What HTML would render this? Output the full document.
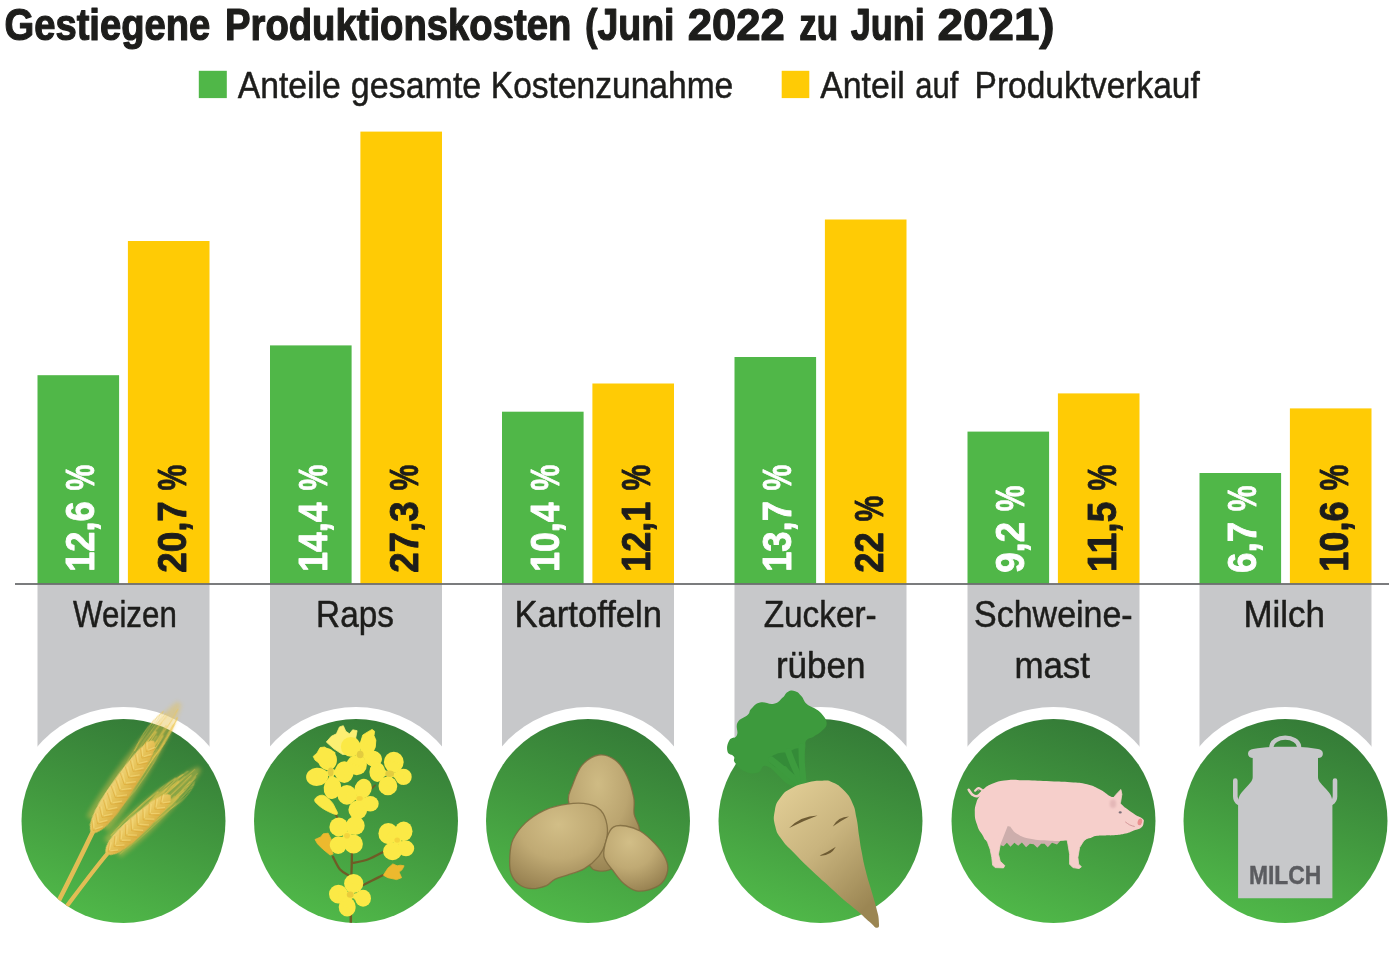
<!DOCTYPE html>
<html lang="de"><head><meta charset="utf-8"><title>Gestiegene Produktionskosten</title>
<style>html,body{margin:0;padding:0;background:#fff}svg{display:block}text{font-family:"Liberation Sans",sans-serif}</style></head><body>
<svg width="1400" height="957" viewBox="0 0 1400 957">
<defs><linearGradient id="gc" x1="0.34" y1="1" x2="0.68" y2="0"><stop offset="0" stop-color="#50b949"/><stop offset="0.5" stop-color="#42993f"/><stop offset="1" stop-color="#347a37"/></linearGradient>
<linearGradient id="gw" x1="0" y1="0" x2="0" y2="1"><stop offset="0" stop-color="#efd377"/><stop offset="0.5" stop-color="#e6c257"/><stop offset="1" stop-color="#d9ad42"/></linearGradient>
<filter id="b05" x="-20%" y="-20%" width="140%" height="140%"><feGaussianBlur stdDeviation="0.5"/></filter>
<filter id="b1" x="-20%" y="-20%" width="140%" height="140%"><feGaussianBlur stdDeviation="1"/></filter>
<filter id="b2" x="-20%" y="-50%" width="140%" height="200%"><feGaussianBlur stdDeviation="2"/></filter>
<clipPath id="cc"><circle cx="0" cy="0" r="102"/></clipPath>
<radialGradient id="gpa" cx="0.42" cy="0.25" r="0.85"><stop offset="0" stop-color="#cfbb84"/><stop offset="0.5" stop-color="#bba570"/><stop offset="1" stop-color="#8f7a4a"/></radialGradient>
<radialGradient id="gpb" cx="0.5" cy="0.25" r="0.8"><stop offset="0" stop-color="#d2be87"/><stop offset="0.5" stop-color="#c0aa74"/><stop offset="1" stop-color="#968050"/></radialGradient>
<radialGradient id="gpc" cx="0.4" cy="0.25" r="0.8"><stop offset="0" stop-color="#d2be87"/><stop offset="0.5" stop-color="#c0aa74"/><stop offset="1" stop-color="#968050"/></radialGradient>
<linearGradient id="gbeet" x1="0.15" y1="0.05" x2="0.75" y2="0.95"><stop offset="0" stop-color="#dfcb93"/><stop offset="0.45" stop-color="#c9b47e"/><stop offset="1" stop-color="#9b8653"/></linearGradient>

</defs>
<rect width="1400" height="957" fill="#fff"/>
<text x="4.54" y="39.5" font-size="44" font-weight="bold" fill="#1d1d1b" stroke="#1d1d1b" stroke-width="1.2" stroke-linejoin="round" textLength="205.67" lengthAdjust="spacingAndGlyphs">Gestiegene</text>
<text x="225.04" y="39.5" font-size="44" font-weight="bold" fill="#1d1d1b" stroke="#1d1d1b" stroke-width="1.2" stroke-linejoin="round" textLength="346.23" lengthAdjust="spacingAndGlyphs">Produktionskosten</text>
<text x="584.98" y="39.5" font-size="44" font-weight="bold" fill="#1d1d1b" stroke="#1d1d1b" stroke-width="1.2" stroke-linejoin="round" textLength="89.57" lengthAdjust="spacingAndGlyphs">(Juni</text>
<text x="687.69" y="39.5" font-size="44" font-weight="bold" fill="#1d1d1b" stroke="#1d1d1b" stroke-width="1.2" stroke-linejoin="round" textLength="97.16" lengthAdjust="spacingAndGlyphs">2022</text>
<text x="799.20" y="39.5" font-size="44" font-weight="bold" fill="#1d1d1b" stroke="#1d1d1b" stroke-width="1.2" stroke-linejoin="round" textLength="38.80" lengthAdjust="spacingAndGlyphs">zu</text>
<text x="850.65" y="39.5" font-size="44" font-weight="bold" fill="#1d1d1b" stroke="#1d1d1b" stroke-width="1.2" stroke-linejoin="round" textLength="74.20" lengthAdjust="spacingAndGlyphs">Juni</text>
<text x="937.61" y="39.5" font-size="44" font-weight="bold" fill="#1d1d1b" stroke="#1d1d1b" stroke-width="1.2" stroke-linejoin="round" textLength="116.96" lengthAdjust="spacingAndGlyphs">2021)</text>
<rect x="198.8" y="70.8" width="28" height="27.3" fill="#50b748"/>
<text x="237.68" y="98" font-size="37" fill="#1d1d1b" stroke="#1d1d1b" stroke-width="0.5" stroke-linejoin="round" textLength="103.06" lengthAdjust="spacingAndGlyphs">Anteile</text>
<text x="350.82" y="98" font-size="37" fill="#1d1d1b" stroke="#1d1d1b" stroke-width="0.5" stroke-linejoin="round" textLength="130.44" lengthAdjust="spacingAndGlyphs">gesamte</text>
<text x="490.75" y="98" font-size="37" fill="#1d1d1b" stroke="#1d1d1b" stroke-width="0.5" stroke-linejoin="round" textLength="242.49" lengthAdjust="spacingAndGlyphs">Kostenzunahme</text>
<rect x="781.7" y="70.8" width="27.6" height="27.3" fill="#ffcb05"/>
<text x="820.18" y="98" font-size="37" fill="#1d1d1b" stroke="#1d1d1b" stroke-width="0.5" stroke-linejoin="round" textLength="84.73" lengthAdjust="spacingAndGlyphs">Anteil</text>
<text x="915.23" y="98" font-size="37" fill="#1d1d1b" stroke="#1d1d1b" stroke-width="0.5" stroke-linejoin="round" textLength="43.07" lengthAdjust="spacingAndGlyphs">auf</text>
<text x="974.60" y="98" font-size="37" fill="#1d1d1b" stroke="#1d1d1b" stroke-width="0.5" stroke-linejoin="round" textLength="225.10" lengthAdjust="spacingAndGlyphs">Produktverkauf</text>
<rect x="37.5" y="584.0" width="172.0" height="190" fill="#c7c8ca"/>
<rect x="270.0" y="584.0" width="172.0" height="190" fill="#c7c8ca"/>
<rect x="502.0" y="584.0" width="172.0" height="190" fill="#c7c8ca"/>
<rect x="734.5" y="584.0" width="172.0" height="190" fill="#c7c8ca"/>
<rect x="967.5" y="584.0" width="172.0" height="190" fill="#c7c8ca"/>
<rect x="1199.5" y="584.0" width="172.0" height="190" fill="#c7c8ca"/>
<rect x="37.5" y="375.2" width="81.6" height="208.8" fill="#50b748"/>
<rect x="127.9" y="241.0" width="81.6" height="343.0" fill="#ffcb05"/>
<rect x="270.0" y="345.4" width="81.6" height="238.6" fill="#50b748"/>
<rect x="360.4" y="131.6" width="81.6" height="452.4" fill="#ffcb05"/>
<rect x="502.0" y="411.7" width="81.6" height="172.3" fill="#50b748"/>
<rect x="592.4" y="383.5" width="81.6" height="200.5" fill="#ffcb05"/>
<rect x="734.5" y="357.0" width="81.6" height="227.0" fill="#50b748"/>
<rect x="824.9" y="219.5" width="81.6" height="364.5" fill="#ffcb05"/>
<rect x="967.5" y="431.6" width="81.6" height="152.4" fill="#50b748"/>
<rect x="1057.9" y="393.4" width="81.6" height="190.6" fill="#ffcb05"/>
<rect x="1199.5" y="473.0" width="81.6" height="111.0" fill="#50b748"/>
<rect x="1289.9" y="408.4" width="81.6" height="175.6" fill="#ffcb05"/>
<rect x="15" y="583.1" width="1374" height="1.8" fill="#6d6e70"/>
<text transform="translate(94.3,570.0) rotate(-90)" y="0" font-size="41" font-weight="bold" fill="#fff" stroke="#fff" stroke-width="0.9" stroke-linejoin="round"><tspan x="-1.83" textLength="70.38" lengthAdjust="spacingAndGlyphs">12,6</tspan> <tspan x="79.53" textLength="25.79" lengthAdjust="spacingAndGlyphs">%</tspan></text>
<text transform="translate(185.5,572.0) rotate(-90)" y="0" font-size="41" font-weight="bold" fill="#1d1d1b" stroke="#1d1d1b" stroke-width="0.9" stroke-linejoin="round"><tspan x="-0.83" textLength="71.70" lengthAdjust="spacingAndGlyphs">20,7</tspan> <tspan x="81.53" textLength="25.79" lengthAdjust="spacingAndGlyphs">%</tspan></text>
<text transform="translate(326.8,570.0) rotate(-90)" y="0" font-size="41" font-weight="bold" fill="#fff" stroke="#fff" stroke-width="0.9" stroke-linejoin="round"><tspan x="-1.79" textLength="69.23" lengthAdjust="spacingAndGlyphs">14,4</tspan> <tspan x="79.53" textLength="25.79" lengthAdjust="spacingAndGlyphs">%</tspan></text>
<text transform="translate(418.0,572.0) rotate(-90)" y="0" font-size="41" font-weight="bold" fill="#1d1d1b" stroke="#1d1d1b" stroke-width="0.9" stroke-linejoin="round"><tspan x="-0.82" textLength="71.40" lengthAdjust="spacingAndGlyphs">27,3</tspan> <tspan x="81.53" textLength="25.79" lengthAdjust="spacingAndGlyphs">%</tspan></text>
<text transform="translate(558.8,570.0) rotate(-90)" y="0" font-size="41" font-weight="bold" fill="#fff" stroke="#fff" stroke-width="0.9" stroke-linejoin="round"><tspan x="-1.79" textLength="69.23" lengthAdjust="spacingAndGlyphs">10,4</tspan> <tspan x="79.53" textLength="25.79" lengthAdjust="spacingAndGlyphs">%</tspan></text>
<text transform="translate(650.0,570.0) rotate(-90)" y="0" font-size="41" font-weight="bold" fill="#1d1d1b" stroke="#1d1d1b" stroke-width="0.9" stroke-linejoin="round"><tspan x="-1.82" textLength="70.07" lengthAdjust="spacingAndGlyphs">12,1</tspan> <tspan x="79.53" textLength="25.79" lengthAdjust="spacingAndGlyphs">%</tspan></text>
<text transform="translate(791.3,570.0) rotate(-90)" y="0" font-size="41" font-weight="bold" fill="#fff" stroke="#fff" stroke-width="0.9" stroke-linejoin="round"><tspan x="-1.84" textLength="70.68" lengthAdjust="spacingAndGlyphs">13,7</tspan> <tspan x="79.53" textLength="25.79" lengthAdjust="spacingAndGlyphs">%</tspan></text>
<text transform="translate(882.5,572.0) rotate(-90)" y="0" font-size="41" font-weight="bold" fill="#1d1d1b" stroke="#1d1d1b" stroke-width="0.9" stroke-linejoin="round"><tspan x="-0.81" textLength="40.52" lengthAdjust="spacingAndGlyphs">22</tspan> <tspan x="50.53" textLength="25.79" lengthAdjust="spacingAndGlyphs">%</tspan></text>
<text transform="translate(1024.3,572.0) rotate(-90)" y="0" font-size="41" font-weight="bold" fill="#fff" stroke="#fff" stroke-width="0.9" stroke-linejoin="round"><tspan x="-0.82" textLength="50.83" lengthAdjust="spacingAndGlyphs">9,2</tspan> <tspan x="60.83" textLength="25.79" lengthAdjust="spacingAndGlyphs">%</tspan></text>
<text transform="translate(1115.5,570.0) rotate(-90)" y="0" font-size="41" font-weight="bold" fill="#1d1d1b" stroke="#1d1d1b" stroke-width="0.9" stroke-linejoin="round"><tspan x="-1.89" textLength="70.17" lengthAdjust="spacingAndGlyphs">11,5</tspan> <tspan x="79.53" textLength="25.79" lengthAdjust="spacingAndGlyphs">%</tspan></text>
<text transform="translate(1256.3,572.0) rotate(-90)" y="0" font-size="41" font-weight="bold" fill="#fff" stroke="#fff" stroke-width="0.9" stroke-linejoin="round"><tspan x="-0.90" textLength="51.06" lengthAdjust="spacingAndGlyphs">6,7</tspan> <tspan x="60.83" textLength="25.79" lengthAdjust="spacingAndGlyphs">%</tspan></text>
<text transform="translate(1347.5,570.0) rotate(-90)" y="0" font-size="41" font-weight="bold" fill="#1d1d1b" stroke="#1d1d1b" stroke-width="0.9" stroke-linejoin="round"><tspan x="-1.83" textLength="70.38" lengthAdjust="spacingAndGlyphs">10,6</tspan> <tspan x="79.53" textLength="25.79" lengthAdjust="spacingAndGlyphs">%</tspan></text>
<text x="73.11" y="627.3" font-size="36.5" fill="#1d1d1b" stroke="#1d1d1b" stroke-width="0.5" stroke-linejoin="round" textLength="103.67" lengthAdjust="spacingAndGlyphs">Weizen</text>
<text x="316.12" y="627.3" font-size="36.5" fill="#1d1d1b" stroke="#1d1d1b" stroke-width="0.5" stroke-linejoin="round" textLength="77.73" lengthAdjust="spacingAndGlyphs">Raps</text>
<text x="514.41" y="627.3" font-size="36.5" fill="#1d1d1b" stroke="#1d1d1b" stroke-width="0.5" stroke-linejoin="round" textLength="147.59" lengthAdjust="spacingAndGlyphs">Kartoffeln</text>
<text x="763.69" y="627.3" font-size="36.5" fill="#1d1d1b" stroke="#1d1d1b" stroke-width="0.5" stroke-linejoin="round" textLength="113.04" lengthAdjust="spacingAndGlyphs">Zucker-</text>
<text x="775.92" y="677.5999999999999" font-size="36.5" fill="#1d1d1b" stroke="#1d1d1b" stroke-width="0.5" stroke-linejoin="round" textLength="89.60" lengthAdjust="spacingAndGlyphs">rüben</text>
<text x="974.11" y="627.3" font-size="36.5" fill="#1d1d1b" stroke="#1d1d1b" stroke-width="0.5" stroke-linejoin="round" textLength="158.55" lengthAdjust="spacingAndGlyphs">Schweine-</text>
<text x="1014.43" y="677.5999999999999" font-size="36.5" fill="#1d1d1b" stroke="#1d1d1b" stroke-width="0.5" stroke-linejoin="round" textLength="75.57" lengthAdjust="spacingAndGlyphs">mast</text>
<text x="1243.38" y="627.3" font-size="36.5" fill="#1d1d1b" stroke="#1d1d1b" stroke-width="0.5" stroke-linejoin="round" textLength="81.64" lengthAdjust="spacingAndGlyphs">Milch</text>
<circle cx="123.5" cy="821" r="114" fill="#fff"/>
<circle cx="123.5" cy="821" r="102" fill="url(#gc)"/>
<g transform="translate(123.5,821)"><g clip-path="url(#cc)"><path d="M-30.5,10.5 C-42,34 -52,55 -67,84" fill="none" stroke="#e2bd55" stroke-width="4.6"/>
<path d="M-16,32.5 C-30,49 -43,67 -61,91" fill="none" stroke="#e2bd55" stroke-width="4.2"/></g>
<g transform="translate(-32,12) rotate(-56)">
<path d="M11.1,-13.6 C66.6,-18.5 134.0,-10.7 157.0,-2.4 L157.0,2.4 C134.0,10.7 66.6,18.5 11.1,13.6Z" fill="#e6c24f" opacity="0.45" filter="url(#b2)"/>
<g filter="url(#b05)" fill="none" stroke="#efc850" stroke-width="1.1" stroke-linecap="round">
<path d="M5.6,-5.9 Q51.6,-8.5 97.7,-6.3" opacity="0.51"/>
<path d="M9.3,2.8 Q49.1,4.1 88.8,2.0" opacity="0.59"/>
<path d="M13.1,-5.4 Q53.9,-7.8 94.7,-4.6" opacity="0.46"/>
<path d="M16.9,7.5 Q59.6,10.9 102.4,7.8" opacity="0.35"/>
<path d="M20.6,3.0 Q67.1,4.4 113.5,2.9" opacity="0.56"/>
<path d="M24.4,3.8 Q60.7,5.6 97.1,4.5" opacity="0.51"/>
<path d="M28.2,-4.5 Q63.3,-6.5 98.4,-3.8" opacity="0.47"/>
<path d="M32.0,4.9 Q76.0,7.1 119.9,4.8" opacity="0.62"/>
<path d="M35.7,-2.4 Q78.0,-3.4 120.2,-2.2" opacity="0.63"/>
<path d="M39.5,8.5 Q72.8,12.3 106.1,7.6" opacity="0.38"/>
<path d="M43.3,10.4 Q79.6,15.1 116.0,9.9" opacity="0.41"/>
<path d="M47.1,0.2 Q82.0,0.2 116.9,-0.1" opacity="0.50"/>
<path d="M50.8,1.9 Q90.9,2.7 130.9,2.0" opacity="0.63"/>
<path d="M54.6,8.0 Q94.8,11.6 135.0,6.9" opacity="0.36"/>
<path d="M58.4,8.1 Q97.4,11.7 136.4,7.4" opacity="0.50"/>
<path d="M62.2,4.8 Q91.7,7.0 121.2,4.9" opacity="0.50"/>
<path d="M65.9,-4.8 Q92.9,-7.0 119.9,-3.6" opacity="0.65"/>
<path d="M69.7,-9.2 Q104.3,-13.4 138.9,-7.5" opacity="0.35"/>
<path d="M73.5,-4.6 Q106.9,-6.7 140.2,-2.9" opacity="0.32"/>
<path d="M77.3,2.6 Q101.5,3.7 125.7,2.7" opacity="0.42"/>
<path d="M81.0,8.5 Q112.4,12.4 143.8,6.6" opacity="0.65"/>
<path d="M84.8,-4.3 Q107.7,-6.2 130.6,-3.4" opacity="0.31"/>
<path d="M88.6,-6.8 Q114.4,-9.8 140.3,-5.1" opacity="0.35"/>
<path d="M92.4,-10.3 Q116.7,-14.9 141.0,-8.4" opacity="0.64"/>
<path d="M96.1,8.9 Q119.7,12.9 143.2,6.8" opacity="0.48"/>
<path d="M99.9,3.2 Q125.3,4.7 150.8,2.5" opacity="0.52"/>
</g>
<path d="M0,0 C4.4,-12.2 44.4,-12.7 86.6,-8.8 C103.2,-6.8 111.0,-3.9 111.0,0 C111.0,3.9 103.2,6.8 86.6,8.8 C44.4,12.7 4.4,12.2 0,0Z" fill="url(#gw)" filter="url(#b05)"/>
<path d="M3.0,0 L10.5,-6.9 M3.0,0 L10.5,6.9" fill="none" stroke="#d9a02a" stroke-width="0.8" opacity="0.5"/>
<path d="M5.2,-0.6 L11.8,-5.5 M5.2,0.6 L11.8,5.5" fill="none" stroke="#f9df84" stroke-width="1.3" opacity="0.5"/>
<path d="M10.9,0 L18.4,-7.6 M10.9,0 L18.4,7.6" fill="none" stroke="#d9a02a" stroke-width="0.8" opacity="0.5"/>
<path d="M13.1,-0.6 L19.7,-6.0 M13.1,0.6 L19.7,6.0" fill="none" stroke="#f9df84" stroke-width="1.3" opacity="0.5"/>
<path d="M18.8,0 L26.3,-8.2 M18.8,0 L26.3,8.2" fill="none" stroke="#d9a02a" stroke-width="0.8" opacity="0.5"/>
<path d="M21.0,-0.6 L27.6,-6.6 M21.0,0.6 L27.6,6.6" fill="none" stroke="#f9df84" stroke-width="1.3" opacity="0.5"/>
<path d="M26.8,0 L34.3,-8.9 M26.8,0 L34.3,8.9" fill="none" stroke="#d9a02a" stroke-width="0.8" opacity="0.5"/>
<path d="M29.0,-0.6 L35.6,-7.1 M29.0,0.6 L35.6,7.1" fill="none" stroke="#f9df84" stroke-width="1.3" opacity="0.5"/>
<path d="M34.7,0 L42.2,-9.5 M34.7,0 L42.2,9.5" fill="none" stroke="#d9a02a" stroke-width="0.8" opacity="0.5"/>
<path d="M36.9,-0.6 L43.5,-7.6 M36.9,0.6 L43.5,7.6" fill="none" stroke="#f9df84" stroke-width="1.3" opacity="0.5"/>
<path d="M42.6,0 L50.1,-10.2 M42.6,0 L50.1,10.2" fill="none" stroke="#d9a02a" stroke-width="0.8" opacity="0.5"/>
<path d="M44.8,-0.6 L51.4,-8.2 M44.8,0.6 L51.4,8.2" fill="none" stroke="#f9df84" stroke-width="1.3" opacity="0.5"/>
<path d="M50.5,0 L58.0,-10.2 M50.5,0 L58.0,10.2" fill="none" stroke="#d9a02a" stroke-width="0.8" opacity="0.5"/>
<path d="M52.7,-0.6 L59.3,-8.2 M52.7,0.6 L59.3,8.2" fill="none" stroke="#f9df84" stroke-width="1.3" opacity="0.5"/>
<path d="M58.5,0 L66.0,-10.0 M58.5,0 L66.0,10.0" fill="none" stroke="#d9a02a" stroke-width="0.8" opacity="0.5"/>
<path d="M60.7,-0.6 L67.3,-8.0 M60.7,0.6 L67.3,8.0" fill="none" stroke="#f9df84" stroke-width="1.3" opacity="0.5"/>
<path d="M66.4,0 L73.9,-9.2 M66.4,0 L73.9,9.2" fill="none" stroke="#d9a02a" stroke-width="0.8" opacity="0.5"/>
<path d="M68.6,-0.6 L75.2,-7.4 M68.6,0.6 L75.2,7.4" fill="none" stroke="#f9df84" stroke-width="1.3" opacity="0.5"/>
<path d="M74.3,0 L81.8,-8.5 M74.3,0 L81.8,8.5" fill="none" stroke="#d9a02a" stroke-width="0.8" opacity="0.5"/>
<path d="M76.5,-0.6 L83.1,-6.8 M76.5,0.6 L83.1,6.8" fill="none" stroke="#f9df84" stroke-width="1.3" opacity="0.5"/>
<path d="M82.2,0 L89.7,-7.8 M82.2,0 L89.7,7.8" fill="none" stroke="#d9a02a" stroke-width="0.8" opacity="0.5"/>
<path d="M84.4,-0.6 L91.0,-6.2 M84.4,0.6 L91.0,6.2" fill="none" stroke="#f9df84" stroke-width="1.3" opacity="0.5"/>
<path d="M90.2,0 L97.7,-7.0 M90.2,0 L97.7,7.0" fill="none" stroke="#d9a02a" stroke-width="0.8" opacity="0.5"/>
<path d="M92.4,-0.6 L99.0,-5.6 M92.4,0.6 L99.0,5.6" fill="none" stroke="#f9df84" stroke-width="1.3" opacity="0.5"/>
<path d="M98.1,0 L105.6,-6.3 M98.1,0 L105.6,6.3" fill="none" stroke="#d9a02a" stroke-width="0.8" opacity="0.5"/>
<path d="M100.3,-0.6 L106.9,-5.0 M100.3,0.6 L106.9,5.0" fill="none" stroke="#f9df84" stroke-width="1.3" opacity="0.5"/>
</g>
<g transform="translate(-17.5,33) rotate(-42.5)">
<path d="M8.7,-12.6 C52.2,-17.1 107.0,-9.9 127.0,-2.2 L127.0,2.2 C107.0,9.9 52.2,17.1 8.7,12.6Z" fill="#e6c24f" opacity="0.45" filter="url(#b2)"/>
<g filter="url(#b05)" fill="none" stroke="#efc850" stroke-width="1.1" stroke-linecap="round">
<path d="M4.4,2.5 Q44.4,3.7 84.4,3.1" opacity="0.63"/>
<path d="M7.3,5.0 Q48.5,7.2 89.6,3.8" opacity="0.46"/>
<path d="M10.3,9.2 Q48.0,13.3 85.8,9.7" opacity="0.34"/>
<path d="M13.2,-0.6 Q46.3,-0.9 79.4,-0.6" opacity="0.50"/>
<path d="M16.2,-10.1 Q48.3,-14.6 80.4,-10.6" opacity="0.62"/>
<path d="M19.1,5.5 Q50.0,8.0 80.9,6.1" opacity="0.35"/>
<path d="M22.1,2.4 Q52.0,3.5 81.8,1.4" opacity="0.60"/>
<path d="M25.1,-6.0 Q55.1,-8.7 85.2,-4.9" opacity="0.61"/>
<path d="M28.0,-4.4 Q64.9,-6.3 101.8,-3.7" opacity="0.54"/>
<path d="M31.0,-6.1 Q67.0,-8.9 103.0,-4.9" opacity="0.64"/>
<path d="M33.9,8.2 Q62.9,11.8 91.8,7.3" opacity="0.36"/>
<path d="M36.9,-7.3 Q62.8,-10.6 88.7,-7.4" opacity="0.51"/>
<path d="M39.8,-10.3 Q71.2,-14.9 102.6,-9.2" opacity="0.41"/>
<path d="M42.8,6.6 Q71.6,9.6 100.3,5.4" opacity="0.47"/>
<path d="M45.8,4.2 Q69.6,6.1 93.5,4.9" opacity="0.31"/>
<path d="M48.7,5.2 Q79.8,7.5 110.8,3.2" opacity="0.58"/>
<path d="M51.7,-2.8 Q79.4,-4.0 107.1,-3.3" opacity="0.32"/>
<path d="M54.6,-6.6 Q85.5,-9.6 116.3,-5.7" opacity="0.56"/>
<path d="M57.6,8.9 Q85.8,12.9 114.0,6.7" opacity="0.42"/>
<path d="M60.6,0.5 Q88.3,0.7 116.0,-0.4" opacity="0.56"/>
<path d="M63.5,6.2 Q90.9,8.9 118.2,3.7" opacity="0.63"/>
<path d="M66.5,-8.5 Q88.5,-12.3 110.5,-6.6" opacity="0.62"/>
<path d="M69.4,-3.3 Q96.0,-4.8 122.6,-2.3" opacity="0.41"/>
<path d="M72.4,-3.8 Q91.4,-5.5 110.5,-3.9" opacity="0.35"/>
<path d="M75.3,3.9 Q98.5,5.7 121.7,2.2" opacity="0.32"/>
<path d="M78.3,10.1 Q95.2,14.6 112.1,7.9" opacity="0.38"/>
</g>
<path d="M0,0 C3.5,-11.2 34.8,-11.7 67.9,-8.1 C80.9,-6.3 87.0,-3.6 87.0,0 C87.0,3.6 80.9,6.3 67.9,8.1 C34.8,11.7 3.5,11.2 0,0Z" fill="url(#gw)" filter="url(#b05)"/>
<path d="M3.0,0 L10.5,-6.4 M3.0,0 L10.5,6.4" fill="none" stroke="#d9a02a" stroke-width="0.8" opacity="0.5"/>
<path d="M5.2,-0.6 L11.8,-5.1 M5.2,0.6 L11.8,5.1" fill="none" stroke="#f9df84" stroke-width="1.3" opacity="0.5"/>
<path d="M10.9,0 L18.4,-7.2 M10.9,0 L18.4,7.2" fill="none" stroke="#d9a02a" stroke-width="0.8" opacity="0.5"/>
<path d="M13.1,-0.6 L19.7,-5.8 M13.1,0.6 L19.7,5.8" fill="none" stroke="#f9df84" stroke-width="1.3" opacity="0.5"/>
<path d="M18.8,0 L26.3,-8.0 M18.8,0 L26.3,8.0" fill="none" stroke="#d9a02a" stroke-width="0.8" opacity="0.5"/>
<path d="M21.0,-0.6 L27.6,-6.4 M21.0,0.6 L27.6,6.4" fill="none" stroke="#f9df84" stroke-width="1.3" opacity="0.5"/>
<path d="M26.7,0 L34.2,-8.8 M26.7,0 L34.2,8.8" fill="none" stroke="#d9a02a" stroke-width="0.8" opacity="0.5"/>
<path d="M28.9,-0.6 L35.5,-7.0 M28.9,0.6 L35.5,7.0" fill="none" stroke="#f9df84" stroke-width="1.3" opacity="0.5"/>
<path d="M34.6,0 L42.1,-9.5 M34.6,0 L42.1,9.5" fill="none" stroke="#d9a02a" stroke-width="0.8" opacity="0.5"/>
<path d="M36.8,-0.6 L43.4,-7.6 M36.8,0.6 L43.4,7.6" fill="none" stroke="#f9df84" stroke-width="1.3" opacity="0.5"/>
<path d="M42.5,0 L50.0,-9.5 M42.5,0 L50.0,9.5" fill="none" stroke="#d9a02a" stroke-width="0.8" opacity="0.5"/>
<path d="M44.7,-0.6 L51.3,-7.6 M44.7,0.6 L51.3,7.6" fill="none" stroke="#f9df84" stroke-width="1.3" opacity="0.5"/>
<path d="M50.4,0 L57.9,-8.7 M50.4,0 L57.9,8.7" fill="none" stroke="#d9a02a" stroke-width="0.8" opacity="0.5"/>
<path d="M52.6,-0.6 L59.2,-7.0 M52.6,0.6 L59.2,7.0" fill="none" stroke="#f9df84" stroke-width="1.3" opacity="0.5"/>
<path d="M58.3,0 L65.8,-7.8 M58.3,0 L65.8,7.8" fill="none" stroke="#d9a02a" stroke-width="0.8" opacity="0.5"/>
<path d="M60.5,-0.6 L67.1,-6.3 M60.5,0.6 L67.1,6.3" fill="none" stroke="#f9df84" stroke-width="1.3" opacity="0.5"/>
<path d="M66.2,0 L73.7,-7.0 M66.2,0 L73.7,7.0" fill="none" stroke="#d9a02a" stroke-width="0.8" opacity="0.5"/>
<path d="M68.4,-0.6 L75.0,-5.6 M68.4,0.6 L75.0,5.6" fill="none" stroke="#f9df84" stroke-width="1.3" opacity="0.5"/>
<path d="M74.1,0 L81.6,-6.1 M74.1,0 L81.6,6.1" fill="none" stroke="#d9a02a" stroke-width="0.8" opacity="0.5"/>
<path d="M76.3,-0.6 L82.9,-4.9 M76.3,0.6 L82.9,4.9" fill="none" stroke="#f9df84" stroke-width="1.3" opacity="0.5"/>
</g></g>
<circle cx="356.0" cy="821" r="114" fill="#fff"/>
<circle cx="356.0" cy="821" r="102" fill="url(#gc)"/>
<g transform="translate(356.0,821)"><g clip-path="url(#cc)">
<path d="M-5.2,105.6 C-5.2,100.8 -5.2,81.6 -5.2,76.8" fill="none" stroke="#6f5c26" stroke-width="2.5" stroke-linecap="round"/>
</g>
<path d="M-4.8,59.2 C-4.8,56.9 -4.5,50.9 -4.3,45.4 C-4.2,40.0 -4.0,29.8 -4.0,26.6" fill="none" stroke="#6f5c26" stroke-width="2.3" stroke-linecap="round"/>
<path d="M-7.3,54.5 C-8.8,53.5 -13.2,51.7 -15.9,48.6 C-18.5,45.4 -21.9,37.8 -23.1,35.6" fill="none" stroke="#6f5c26" stroke-width="2.3" stroke-linecap="round"/>
<path d="M-3.3,41.9 C-0.8,41.4 6.7,40.4 11.7,38.5 C16.8,36.7 24.5,32.3 27.0,31.0" fill="none" stroke="#6f5c26" stroke-width="2.3" stroke-linecap="round"/>
<path d="M7.3,64.0 C8.9,63.2 13.4,60.9 16.7,59.2 C20.1,57.6 25.6,54.8 27.4,54.0" fill="none" stroke="#6f5c26" stroke-width="2.3" stroke-linecap="round"/>
<path d="M2.9,6.8 C3.1,5.4 4.2,2.2 4.2,-1.9 C4.2,-6.1 3.1,-15.5 2.9,-18.2" fill="none" stroke="#6f5c26" stroke-width="1.8" stroke-linecap="round"/>
<path d="M-14.6,1.8 C-15.2,1.0 -17.1,-1.3 -18.4,-3.2 C-19.6,-5.1 -21.5,-8.4 -22.1,-9.5" fill="none" stroke="#6f5c26" stroke-width="1.8" stroke-linecap="round"/>
<path d="M19.2,-35.8 C18.4,-35.0 15.5,-32.4 14.2,-30.8 C13.0,-29.1 12.1,-26.6 11.7,-25.8" fill="none" stroke="#6f5c26" stroke-width="1.6" stroke-linecap="round"/>
<path d="M-41.0,18.5 L-35.3,16.0 L-32.8,12.8 L-27.8,12.2 L-24.7,18.5 L-25.9,26.6 L-22.8,32.9 L-25.9,34.1 L-33.4,27.9 L-38.4,22.9Z" fill="#ecb92e" stroke="#ecb92e" stroke-width="0.8" stroke-linejoin="round"/>
<path d="M27.4,54.2 L31.8,47.3 L36.8,42.9 L41.2,44.8 L44.3,44.2 L48.1,44.8 L46.2,48.6 L43.1,51.1 L45.6,56.7 L40.6,58.6 L31.8,56.7Z" fill="#ecb92e" stroke="#ecb92e" stroke-width="0.8" stroke-linejoin="round"/>
<path d="M-41.2,-21.7 C-40.5,-23.8 -36.6,-26.1 -33.4,-25.8 C-30.2,-25.4 -27.8,-22.6 -25.3,-20.1 C-22.8,-17.6 -22.2,-15.9 -20.9,-13.2 C-19.6,-10.5 -17.5,-7.5 -18.8,-6.7 C-20.0,-5.9 -23.5,-7.4 -27.2,-9.2 C-30.8,-11.0 -34.4,-13.0 -37.2,-15.5 C-40.0,-18.0 -42.0,-19.7 -41.2,-21.7Z" fill="#fbe946" stroke="#fbe946" stroke-width="0.8" stroke-linejoin="round"/>
<path d="M-29.7,-79.0 L-24.7,-84.7 L-19.6,-87.2 L-16.5,-94.1 L-12.7,-95.3 L-10.2,-89.7 L-6.5,-87.2 L-3.3,-91.2 L1.1,-90.3 L-0.2,-83.4 L1.7,-74.7 L-3.3,-67.1 L-13.4,-66.5 L-22.1,-72.2Z" fill="#fcef72" stroke="#fcef72" stroke-width="0.8" stroke-linejoin="round"/>
<path d="M-42.8,-64.6 L-39.1,-67.8 L-35.9,-73.4 L-31.5,-74.0 L-27.2,-71.5 L-20.9,-68.4 L-24.7,-58.4 L-35.9,-57.1 L-41.0,-60.9Z" fill="#fbe946" stroke="#fbe946" stroke-width="0.8" stroke-linejoin="round"/>
<path d="M4.2,-77.2 L6.7,-85.9 L11.7,-89.1 L16.1,-91.6 L18.6,-89.7 L18.0,-85.3 L19.9,-80.9 L19.2,-73.4 L15.5,-67.1 L6.7,-67.1Z" fill="#fbe946" stroke="#fbe946" stroke-width="0.8" stroke-linejoin="round"/>
<circle cx="-24.9" cy="-48.6" r="4" fill="#fbe946"/>
<ellipse cx="-38.8" cy="-44.2" rx="11.1" ry="9.1" fill="#fbe946" transform="rotate(-5 -38.8 -44.2)"/>
<path d="M-24.9,-48.6 L-41.3,-52.3 L-36.3,-36.2Z" fill="#fbe946" stroke="#fbe946" stroke-width="0.6"/>
<ellipse cx="-28.8" cy="-61.9" rx="9.6" ry="11.3" fill="#fbe946" transform="rotate(-15 -28.8 -61.9)"/>
<path d="M-24.9,-48.6 L-20.2,-64.4 L-37.4,-59.4Z" fill="#fbe946" stroke="#fbe946" stroke-width="0.6"/>
<ellipse cx="-11.7" cy="-48.9" rx="9.4" ry="10.8" fill="#fbe946"/>
<path d="M-24.9,-48.6 L-11.5,-40.2 L-11.9,-57.6Z" fill="#fbe946" stroke="#fbe946" stroke-width="0.6"/>
<ellipse cx="-23.5" cy="-33.0" rx="8.8" ry="11.1" fill="#fbe946" transform="rotate(5 -23.5 -33.0)"/>
<path d="M-24.9,-48.6 L-31.6,-32.3 L-15.4,-33.8Z" fill="#fbe946" stroke="#fbe946" stroke-width="0.6"/>
<circle cx="4.2" cy="-66.5" r="4" fill="#fbe946"/>
<ellipse cx="17.2" cy="-62.4" rx="8.8" ry="7.9" fill="#fbe946" transform="rotate(10 17.2 -62.4)"/>
<path d="M4.2,-66.5 L14.9,-55.4 L19.4,-69.4Z" fill="#fbe946" stroke="#fbe946" stroke-width="0.6"/>
<ellipse cx="0.7" cy="-55.9" rx="10.2" ry="10.2" fill="#fbe946"/>
<path d="M4.2,-66.5 L-8.3,-58.9 L9.7,-52.9Z" fill="#fbe946" stroke="#fbe946" stroke-width="0.6"/>
<ellipse cx="-5.2" cy="-74.2" rx="9.9" ry="9.9" fill="#fbe946"/>
<path d="M4.2,-66.5 L0.6,-81.3 L-11.1,-67.0Z" fill="#fbe946" stroke="#fbe946" stroke-width="0.6"/>
<ellipse cx="11.8" cy="-76.5" rx="7.8" ry="11.3" fill="#fbe946" transform="rotate(10 11.8 -76.5)"/>
<path d="M4.2,-66.5 L17.6,-72.1 L6.1,-80.9Z" fill="#fbe946" stroke="#fbe946" stroke-width="0.6"/>
<circle cx="34.0" cy="-47.3" r="4" fill="#fbe946"/>
<ellipse cx="37.8" cy="-58.9" rx="9.9" ry="10.3" fill="#fbe946"/>
<path d="M34.0,-47.3 L46.6,-56.0 L29.0,-61.7Z" fill="#fbe946" stroke="#fbe946" stroke-width="0.6"/>
<ellipse cx="47.5" cy="-44.1" rx="8.2" ry="8.2" fill="#fbe946"/>
<path d="M34.0,-47.3 L45.7,-36.7 L49.2,-51.6Z" fill="#fbe946" stroke="#fbe946" stroke-width="0.6"/>
<ellipse cx="31.9" cy="-35.1" rx="9.4" ry="9.4" fill="#fbe946"/>
<path d="M34.0,-47.3 L23.3,-36.5 L40.5,-33.6Z" fill="#fbe946" stroke="#fbe946" stroke-width="0.6"/>
<ellipse cx="21.3" cy="-48.9" rx="7.9" ry="9.9" fill="#fbe946"/>
<path d="M34.0,-47.3 L22.2,-56.2 L20.4,-41.5Z" fill="#fbe946" stroke="#fbe946" stroke-width="0.6"/>
<circle cx="3.6" cy="-22.6" r="4" fill="#fbe946"/>
<ellipse cx="7.1" cy="-32.4" rx="8.5" ry="9.9" fill="#fbe946" transform="rotate(20 7.1 -32.4)"/>
<path d="M3.6,-22.6 L14.5,-29.7 L-0.3,-35.1Z" fill="#fbe946" stroke="#fbe946" stroke-width="0.6"/>
<ellipse cx="-9.1" cy="-26.2" rx="9.4" ry="9.9" fill="#fbe946"/>
<path d="M3.6,-22.6 L-6.7,-34.5 L-11.4,-17.8Z" fill="#fbe946" stroke="#fbe946" stroke-width="0.6"/>
<ellipse cx="14.2" cy="-17.3" rx="8.5" ry="7.8" fill="#fbe946"/>
<path d="M3.6,-22.6 L10.9,-10.8 L17.4,-23.8Z" fill="#fbe946" stroke="#fbe946" stroke-width="0.6"/>
<ellipse cx="1.8" cy="-11.2" rx="9.4" ry="9.4" fill="#fbe946"/>
<path d="M3.6,-22.6 L-6.8,-12.5 L10.4,-9.9Z" fill="#fbe946" stroke="#fbe946" stroke-width="0.6"/>
<ellipse cx="-25.3" cy="-49.0" rx="2.8" ry="4.4" fill="#d9c13c" opacity="0.7" filter="url(#b05)"/>
<ellipse cx="4.2" cy="-66.5" rx="3.4" ry="3.8" fill="#d9c13c" opacity="0.7" filter="url(#b05)"/>
<ellipse cx="33.7" cy="-47.3" rx="4.4" ry="3.2" fill="#d9c13c" opacity="0.7" filter="url(#b05)"/>
<ellipse cx="3.6" cy="-22.6" rx="3.2" ry="2.4" fill="#f2cc38" opacity="0.7" filter="url(#b05)"/>
<circle cx="-9.0" cy="14.7" r="4" fill="#fbe946"/>
<ellipse cx="-17.2" cy="5.9" rx="9.4" ry="9.4" fill="#fbe946"/>
<path d="M-9.0,14.7 L-10.9,-0.1 L-23.6,11.8Z" fill="#fbe946" stroke="#fbe946" stroke-width="0.6"/>
<ellipse cx="-0.7" cy="4.7" rx="9.4" ry="9.4" fill="#fbe946"/>
<path d="M-9.0,14.7 L6.0,10.2 L-7.4,-0.8Z" fill="#fbe946" stroke="#fbe946" stroke-width="0.6"/>
<ellipse cx="-17.8" cy="24.1" rx="8.5" ry="8.8" fill="#fbe946"/>
<path d="M-9.0,14.7 L-23.6,18.7 L-12.1,29.5Z" fill="#fbe946" stroke="#fbe946" stroke-width="0.6"/>
<ellipse cx="-2.5" cy="23.0" rx="9.4" ry="9.4" fill="#fbe946"/>
<path d="M-9.0,14.7 L-9.3,28.3 L4.3,17.6Z" fill="#fbe946" stroke="#fbe946" stroke-width="0.6"/>
<ellipse cx="-9.0" cy="14.7" rx="3.0" ry="2.8" fill="#f2cc38" opacity="0.7" filter="url(#b05)"/>
<circle cx="41.2" cy="19.5" r="4" fill="#fbe946"/>
<ellipse cx="32.3" cy="12.6" rx="9.9" ry="10.6" fill="#fbe946"/>
<path d="M41.2,19.5 L38.0,5.3 L26.7,19.9Z" fill="#fbe946" stroke="#fbe946" stroke-width="0.6"/>
<ellipse cx="47.7" cy="10.3" rx="8.8" ry="9.9" fill="#fbe946"/>
<path d="M41.2,19.5 L54.3,15.0 L41.0,5.6Z" fill="#fbe946" stroke="#fbe946" stroke-width="0.6"/>
<ellipse cx="36.5" cy="30.3" rx="9.4" ry="8.9" fill="#fbe946"/>
<path d="M41.2,19.5 L28.9,27.0 L44.1,33.6Z" fill="#fbe946" stroke="#fbe946" stroke-width="0.6"/>
<ellipse cx="50.0" cy="27.4" rx="8.2" ry="7.8" fill="#fbe946"/>
<path d="M41.2,19.5 L45.2,32.8 L54.8,22.0Z" fill="#fbe946" stroke="#fbe946" stroke-width="0.6"/>
<ellipse cx="41.2" cy="19.1" rx="2.8" ry="2.6" fill="#f2cc38" opacity="0.7" filter="url(#b05)"/>
<circle cx="-5.8" cy="74.0" r="4" fill="#fbe946"/>
<ellipse cx="-2.3" cy="62.5" rx="9.6" ry="9.4" fill="#fbe946"/>
<path d="M-5.8,74.0 L6.0,65.0 L-10.6,59.9Z" fill="#fbe946" stroke="#fbe946" stroke-width="0.6"/>
<ellipse cx="-17.6" cy="73.1" rx="9.4" ry="9.4" fill="#fbe946"/>
<path d="M-5.8,74.0 L-16.9,64.4 L-18.3,81.7Z" fill="#fbe946" stroke="#fbe946" stroke-width="0.6"/>
<ellipse cx="7.1" cy="77.2" rx="7.9" ry="8.5" fill="#fbe946"/>
<path d="M-5.8,74.0 L5.4,84.4 L8.9,70.0Z" fill="#fbe946" stroke="#fbe946" stroke-width="0.6"/>
<ellipse cx="-8.8" cy="86.0" rx="8.5" ry="9.4" fill="#fbe946"/>
<path d="M-5.8,74.0 L-16.5,84.2 L-1.1,87.9Z" fill="#fbe946" stroke="#fbe946" stroke-width="0.6"/>
<ellipse cx="-5.8" cy="73.6" rx="3.4" ry="3.2" fill="#e3c038" opacity="0.7" filter="url(#b05)"/></g>
<circle cx="588.0" cy="821" r="114" fill="#fff"/>
<circle cx="588.0" cy="821" r="102" fill="url(#gc)"/>
<g transform="translate(588.0,821)"><path d="M-19.6,-20.1 C-20.5,-26.7 -17.7,-29.8 -15.5,-35.7 C-13.2,-41.7 -10.4,-50.5 -6.1,-55.6 C-1.7,-60.6 5.1,-65.2 10.7,-66.0 C16.2,-66.9 22.7,-64.3 27.4,-60.8 C32.1,-57.3 35.8,-51.4 38.9,-45.1 C41.9,-38.9 44.5,-29.6 45.8,-23.2 C47.0,-16.8 45.2,-11.7 46.2,-6.5 C47.1,-1.3 51.4,2.9 51.4,8.2 C51.4,13.4 50.2,18.6 46.2,24.9 C42.2,31.1 33.3,41.6 27.4,45.8 C21.5,49.9 15.2,50.6 10.7,49.9 C6.1,49.3 3.7,49.3 0.2,41.6 C-3.3,33.9 -6.9,14.2 -10.2,4.0 C-13.5,-6.3 -18.8,-13.4 -19.6,-20.1Z" fill="url(#gpa)" stroke="#7f6b3f" stroke-width="1.3" stroke-opacity="0.85"/>
<path d="M-78.2,35.3 C-77.8,29.7 -77.6,24.2 -75.0,18.6 C-72.4,13.0 -67.7,6.8 -62.5,1.9 C-57.3,-3.0 -50.6,-7.5 -43.7,-10.7 C-36.7,-13.8 -28.0,-15.9 -20.7,-16.9 C-13.4,-18.0 -5.4,-18.0 0.2,-16.9 C5.8,-15.9 9.6,-14.1 12.7,-10.7 C15.9,-7.2 18.1,-1.3 19.0,4.0 C19.9,9.2 19.4,15.5 18.0,20.7 C16.6,25.9 14.3,30.8 10.7,35.3 C7.0,39.8 1.3,44.7 -4.0,47.9 C-9.2,51.0 -15.8,52.4 -20.7,54.1 C-25.6,55.9 -29.7,56.6 -33.2,58.3 C-36.7,60.0 -37.8,63.0 -41.6,64.6 C-45.4,66.1 -51.7,67.9 -56.2,67.7 C-60.7,67.5 -65.3,66.1 -68.8,63.5 C-72.2,60.9 -75.5,56.7 -77.1,52.0 C-78.7,47.3 -78.5,40.9 -78.2,35.3Z" fill="url(#gpb)" stroke="#7f6b3f" stroke-width="1.3" stroke-opacity="0.85"/>
<path d="M15.9,35.3 C14.8,29.7 17.5,21.4 19.0,16.5 C20.6,11.6 22.2,8.0 25.3,6.1 C28.4,4.1 33.3,4.3 37.8,5.0 C42.4,5.7 47.6,7.3 52.5,10.2 C57.3,13.2 62.9,18.3 67.1,22.8 C71.3,27.3 75.4,32.9 77.5,37.4 C79.6,41.9 80.3,45.8 79.6,49.9 C78.9,54.1 76.5,59.4 73.4,62.5 C70.2,65.6 65.0,67.5 60.8,68.8 C56.6,70.0 52.5,70.8 48.3,69.8 C44.1,68.8 39.6,65.8 35.7,62.5 C31.9,59.2 28.6,54.5 25.3,49.9 C22.0,45.4 16.9,40.9 15.9,35.3Z" fill="url(#gpc)" stroke="#7f6b3f" stroke-width="1.3" stroke-opacity="0.85"/></g>
<circle cx="820.5" cy="821" r="114" fill="#fff"/>
<circle cx="820.5" cy="821" r="102" fill="url(#gc)"/>
<g transform="translate(820.5,821)"><path d="M-93.0,-69.5 C-94.0,-73.3 -93.3,-77.0 -91.1,-80.8 C-88.9,-84.6 -85.5,-81.7 -83.6,-85.8 C-81.7,-89.9 -85.4,-93.7 -82.9,-98.4 C-80.5,-103.1 -76.1,-102.7 -72.9,-105.9 C-69.7,-109.1 -72.1,-109.2 -69.2,-112.2 C-66.2,-115.1 -65.6,-117.3 -60.4,-118.4 C-55.1,-119.6 -51.8,-116.0 -46.6,-117.2 C-41.3,-118.4 -41.0,-120.7 -37.8,-123.5 C-34.6,-126.2 -35.7,-127.6 -32.8,-129.1 C-29.9,-130.6 -28.5,-130.8 -25.3,-129.7 C-22.0,-128.7 -21.6,-127.6 -19.0,-124.7 C-16.4,-121.8 -17.2,-120.1 -14.0,-117.2 C-10.8,-114.3 -8.7,-114.5 -5.2,-112.2 C-1.7,-109.8 -1.6,-110.4 1.1,-107.2 C3.7,-103.9 5.8,-102.2 6.1,-98.4 C6.4,-94.6 5.2,-94.1 2.3,-90.9 C-0.6,-87.6 -2.7,-86.9 -6.5,-84.6 C-10.3,-82.2 -11.9,-83.5 -14.0,-80.8 C-16.0,-78.2 -14.7,-78.0 -15.2,-73.3 C-15.8,-68.6 -15.9,-68.4 -16.2,-60.8 C-16.6,-53.2 -13.5,-46.6 -16.7,-40.7 C-20.0,-34.9 -21.9,-32.5 -30.3,-35.7 C-38.7,-38.9 -45.2,-51.6 -52.9,-54.5 C-60.5,-57.4 -57.6,-49.4 -62.9,-48.2 C-68.2,-47.1 -70.2,-47.1 -75.4,-49.5 C-80.7,-51.8 -82.8,-54.7 -85.5,-58.3 C-88.1,-61.8 -85.0,-61.9 -86.7,-64.5 C-88.5,-67.2 -92.0,-65.7 -93.0,-69.5Z" fill="#3d9a3d"/>
<path d="M-51.7,-62.0 C-50.6,-64.4 -46.0,-66.4 -42.1,-67.8 C-38.1,-69.2 -35.7,-68.1 -32.1,-69.1 C-28.6,-70.0 -27.0,-72.2 -24.3,-72.5 C-21.6,-72.7 -19.7,-74.5 -18.6,-70.4 C-17.4,-66.3 -18.2,-57.9 -18.6,-52.1 C-18.9,-46.4 -18.7,-43.2 -20.4,-41.7 C-22.1,-40.1 -24.0,-41.7 -26.9,-44.3 C-29.8,-46.9 -32.1,-53.1 -34.8,-54.7 C-37.4,-56.3 -37.4,-51.8 -40.0,-52.1 C-42.6,-52.4 -45.5,-54.0 -47.8,-56.0 C-50.2,-58.0 -52.9,-59.7 -51.7,-62.0Z" fill="#338a37" opacity="0.9"/>
<path d="M-49.1,-61.2 C-46.7,-59.3 -39.3,-53.3 -34.8,-49.5 C-30.2,-45.7 -23.9,-40.3 -21.7,-38.5" fill="none" stroke="#3d9b3e" stroke-width="6.5" stroke-linecap="round"/>
<path d="M-32.1,-69.1 C-31.2,-66.7 -28.6,-59.7 -26.4,-54.7 C-24.2,-49.7 -20.3,-41.7 -19.1,-39.0" fill="none" stroke="#3d9b3e" stroke-width="6.5" stroke-linecap="round"/>
<path d="M-19.1,-74.3 C-19.0,-71.5 -18.9,-63.2 -18.6,-57.3 C-18.2,-51.5 -17.2,-42.1 -17.0,-39.0" fill="none" stroke="#3d9b3e" stroke-width="6" stroke-linecap="round"/>
<path d="M1.8,-40.3 C-5.1,-40.3 -5.5,-40.3 -13.8,-38.3 C-22.2,-36.2 -22.6,-36.5 -29.5,-32.5 C-36.5,-28.5 -35.7,-29.3 -40.0,-23.4 C-44.3,-17.4 -44.3,-18.0 -45.7,-10.3 C-47.1,-2.6 -47.1,-2.3 -45.2,5.4 C-43.3,13.0 -43.6,11.5 -38.7,18.4 C-33.8,25.4 -34.2,23.8 -26.9,31.5 C-19.6,39.2 -19.6,39.2 -11.2,47.2 C-2.9,55.2 -3.9,53.9 4.4,61.6 C12.8,69.2 11.8,68.6 20.1,75.9 C28.5,83.3 28.1,82.4 35.8,89.0 C43.5,95.6 43.3,96.0 48.9,100.8 C54.4,105.5 54.2,107.1 56.7,106.8 C59.2,106.4 58.5,104.9 58.3,99.5 C58.0,94.0 57.7,94.7 55.7,86.4 C53.6,78.0 53.2,77.9 50.4,68.1 C47.6,58.3 47.6,59.6 45.2,49.8 C42.8,40.0 43.0,40.6 41.3,31.5 C39.5,22.5 40.1,24.9 38.7,15.8 C37.3,6.8 37.9,6.6 36.1,-2.5 C34.2,-11.5 35.3,-10.6 31.9,-18.1 C28.5,-25.7 28.5,-25.2 23.3,-30.7 C18.0,-36.1 18.0,-35.9 12.3,-38.5 C6.6,-41.1 8.8,-40.4 1.8,-40.3Z" fill="url(#gbeet)"/>
<path d="M-31.4,7.0 Q-17.5,-0.2 -2.9,-5.6 Q-19.7,-5.3 -31.4,7.0Z" fill="#6e5b33"/>
<path d="M12.3,5.4 Q20.1,-0.0 28.5,-4.5 Q17.5,-4.3 12.3,5.4Z" fill="#6e5b33"/>
<path d="M-0.8,34.6 Q7.7,30.9 15.4,25.8 Q10.1,35.3 -0.8,34.6Z" fill="#6e5b33"/></g>
<circle cx="1053.5" cy="821" r="114" fill="#fff"/>
<circle cx="1053.5" cy="821" r="102" fill="url(#gc)"/>
<g transform="translate(1053.5,821)"><path d="M-70.1,-30.3 C-71.0,-29.5 -74.1,-25.7 -75.9,-25.0 C-77.7,-24.3 -79.4,-25.1 -80.9,-26.2 C-82.4,-27.2 -84.1,-30.3 -84.8,-31.2" fill="none" stroke="#f6cfcb" stroke-width="2.6" stroke-linecap="round"/>
<path d="M-78.4,-30.3 C-77.9,-30.8 -76.2,-32.7 -75.1,-32.9 C-74.0,-33.0 -72.3,-31.5 -71.7,-31.2" fill="none" stroke="#f6cfcb" stroke-width="2.2" stroke-linecap="round"/>
<path d="M-71.7,9.8 L-65.9,21.5 L-63.4,28.2 L-61.7,36.5 L-60.9,44.1 L-58.4,46.6 L-50.0,46.9 L-48.7,44.6 L-53.3,40.2 L-55.0,33.2 L-53.3,24.0 L-46.6,13.1 L-43.3,3.1Z" fill="#f6cfcb" stroke="#f6cfcb" stroke-width="0.8" stroke-linejoin="round"/>
<path d="M11.9,9.8 L13.5,18.1 L14.4,23.2 L16.1,33.2 L16.1,43.2 L19.4,46.6 L25.6,47.6 L27.9,45.7 L25.2,43.2 L24.4,36.5 L26.1,26.5 L30.3,19.8 L37.0,14.8Z" fill="#f6cfcb" stroke="#f6cfcb" stroke-width="0.8" stroke-linejoin="round"/>
<path d="M-45.8,5.1 L-53.3,24.0 L-50.0,25.2 L-46.6,21.8 L-43.0,25.8 L-39.1,21.8 L-35.3,24.8 L-31.6,21.5 L-27.4,26.2 L-23.6,22.8 L-19.9,23.2 L-16.2,26.8 L-12.4,22.8 L-9.0,22.8 L-5.7,26.2 L-1.5,21.8 L3.5,23.5 L6.9,19.8 L13.5,18.1 L13.5,9.8 L-19.9,9.8Z" fill="#cdaeac"/>
<path d="M-74.2,-24.5 C-72.5,-27.8 -73.6,-28.4 -70.1,-31.7 C-66.5,-35.0 -65.9,-35.4 -60.0,-37.7 C-54.2,-40.0 -54.6,-40.0 -46.6,-40.7 C-38.7,-41.5 -39.1,-41.0 -28.3,-40.7 C-17.4,-40.5 -14.5,-40.2 -3.2,-39.7 C8.1,-39.2 7.7,-39.5 16.9,-38.7 C26.1,-38.0 26.1,-38.6 33.6,-36.7 C41.1,-34.8 41.3,-34.1 47.0,-31.2 C52.6,-28.3 52.4,-27.1 56.2,-25.0 C59.9,-22.9 58.9,-25.0 62.0,-22.8 C65.2,-20.6 65.8,-18.9 68.7,-16.1 C71.6,-13.4 70.4,-14.5 73.7,-12.0 C77.1,-9.4 78.3,-8.4 82.1,-6.1 C85.9,-3.8 86.8,-4.5 88.8,-2.6 C90.8,-0.7 90.5,-0.9 90.1,1.4 C89.8,3.8 89.9,4.8 87.4,6.8 C85.0,8.8 84.3,8.0 80.4,9.4 C76.6,10.9 76.7,11.3 72.1,12.5 C67.5,13.6 67.0,13.6 62.0,14.1 C57.0,14.6 57.0,14.2 52.0,14.5 C47.0,14.7 46.6,14.3 42.0,15.1 C37.4,16.0 40.7,16.7 33.6,17.8 C26.5,18.9 22.7,19.0 13.5,19.5 C4.3,20.0 6.0,20.2 -3.2,19.8 C-12.4,19.4 -14.9,19.6 -23.2,17.8 C-31.6,16.1 -31.0,16.0 -36.6,12.8 C-42.3,9.6 -41.6,5.0 -45.8,5.1 C-50.0,5.2 -48.5,9.4 -53.3,13.1 C-58.1,16.8 -60.4,19.8 -65.0,19.8 C-69.6,19.8 -68.8,17.3 -71.7,13.1 C-74.7,8.9 -75.0,8.5 -76.7,3.1 C-78.5,-2.3 -78.7,-3.2 -78.7,-8.6 C-78.8,-14.0 -78.2,-14.7 -77.1,-18.6 C-75.9,-22.6 -76.0,-21.2 -74.2,-24.5Z" fill="#f6cfcb"/>
<path d="M59.5,-22.8 L63.7,-27.8 L67.4,-31.5 L68.4,-26.7 L67.0,-18.3 L62.0,-19.5Z" fill="#f6cfcb" stroke="#f6cfcb" stroke-width="0.8" stroke-linejoin="round"/>
<ellipse cx="59.5" cy="-17.3" rx="3.2" ry="4.2" fill="#d9a9ab" opacity="0.6" filter="url(#b1)"/>
<ellipse cx="86.4" cy="0.9" rx="2.2" ry="3.4" fill="#ea8f8e" transform="rotate(15 86.4 0.9)"/>
<ellipse cx="66.7" cy="-8.6" rx="1.6" ry="1.1" fill="#7b6f78"/>
<path d="M72.1,1.1 C72.8,1.6 74.8,3.2 76.2,3.9 C77.7,4.7 80.0,5.2 80.8,5.4" fill="none" stroke="#cf9193" stroke-width="0.9" stroke-linecap="round"/>
<circle cx="-75.1" cy="-30.7" r="0.9" fill="#9c8a8c"/></g>
<circle cx="1285.5" cy="821" r="114" fill="#fff"/>
<circle cx="1285.5" cy="821" r="102" fill="url(#gc)"/>
<g transform="translate(1285.5,821)"><path d="M-47.4,77.3 L-47.4,-17.9 C-47.4,-24.5 -45.1,-27.3 -40.8,-32.0 C-37.1,-36.3 -32.8,-39.6 -32.8,-43.8 L-32.8,-67.8 L32.5,-67.8 L32.5,-43.8 C32.5,-39.6 36.8,-36.3 40.5,-32.0 C44.8,-27.3 46.9,-24.5 46.9,-17.9 L46.9,77.3Z" fill="#c7c8ca"/>
<path d="M-37.5,-67.3 C-37.5,-70.1 -35.2,-71.7 -32.4,-72.0 C-23.0,-73.6 -16.4,-74.2 -0.4,-74.2 C15.6,-74.2 23.1,-73.6 32.5,-72.0 C35.4,-71.7 37.4,-70.1 37.4,-67.3 C37.4,-64.5 35.4,-63.1 32.5,-63.1 L-32.4,-63.1 C-35.2,-63.1 -37.5,-64.5 -37.5,-67.3Z" fill="#c7c8ca"/>
<path d="M-14.0,-73.0 L-14.0,-74.8 A13.8,9.4 0 0 1 13.5,-74.8 L13.5,-73.0" fill="none" stroke="#c7c8ca" stroke-width="4.4"/>
<path d="M-50.2,-40.5 L-50.2,-24.5 C-50.2,-20.7 -48.8,-19.3 -46.5,-17.9" fill="none" stroke="#c7c8ca" stroke-width="4.6" stroke-linecap="round"/>
<path d="M49.5,-40.5 L49.5,-24.5 C49.5,-20.7 48.1,-19.3 45.7,-17.9" fill="none" stroke="#c7c8ca" stroke-width="4.6" stroke-linecap="round"/>
<text x="-36.53" y="62.6" font-size="25" font-weight="bold" fill="#5b5c60" stroke="#5b5c60" stroke-width="0.4" textLength="72.37" lengthAdjust="spacingAndGlyphs">MILCH</text></g>
</svg></body></html>
